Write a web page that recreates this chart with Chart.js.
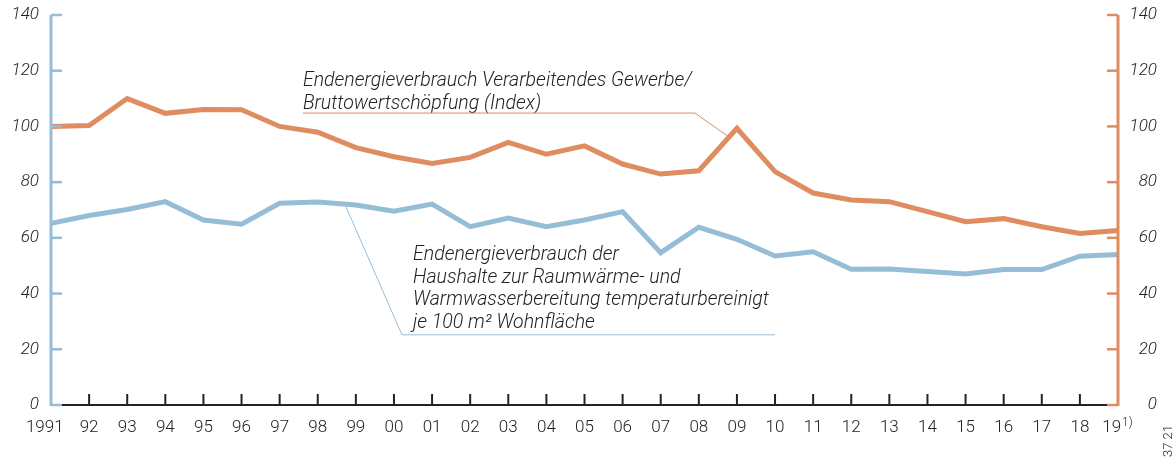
<!DOCTYPE html>
<html>
<head>
<meta charset="utf-8">
<script src="https://cdn.jsdelivr.net/npm/chart.js@4.4.1/dist/chart.umd.min.js"></script>
<style>
	html, body { margin: 0; padding: 0; background: #fff; }
	#wrap { width: 1174px; height: 459px; }
</style>
</head>
<body>
<div id="wrap"><canvas id="energyChart" width="1174" height="459"></canvas></div>
<script>
const years = ["1991", "92", "93", "94", "95", "96", "97", "98", "99", "00",
	"01", "02", "03", "04", "05", "06", "07", "08", "09", "10",
	"11", "12", "13", "14", "15", "16", "17", "18", "19"];

// Endenergieverbrauch Verarbeitendes Gewerbe / Bruttowertschoepfung (Index)
const gewerbe = [100, 100.3, 110, 104.7, 106.1, 106, 100, 97.9, 92.4, 89.1,
	86.7, 88.9, 94.3, 90, 93, 86.5, 82.9, 84.1, 99.3, 83.8,
	76.1, 73.6, 73, 69.4, 65.8, 66.9, 64, 61.6, 62.6];

// Endenergieverbrauch der Haushalte je 100 m2 Wohnflaeche
const haushalte = [65.2, 68, 70.2, 73, 66.4, 64.9, 72.4, 72.9, 71.8, 69.6,
	72.1, 64, 67.1, 64, 66.4, 69.4, 54.7, 63.8, 59.5, 53.5,
	55, 48.7, 48.8, 47.9, 47, 48.6, 48.6, 53.4, 54];

const yTicks = [0, 20, 40, 60, 80, 100, 120, 140];

const orange = "rgb(222, 140, 96)";
const blue = "rgb(150, 189, 215)";
const ink = "#222";
const fontFamily = "Roboto, 'Liberation Sans', sans-serif";

const energyCanvas = document.getElementById("energyChart");

//////////////////////////////// axes, ticks and notes

const decorPlugin = {
	id: "decor",
	afterDraw(chart) {
		const ctx = chart.ctx;
		const x = chart.scales.x;
		const yl = chart.scales.yLeft;
		const yr = chart.scales.yRight;
		const left = x.getPixelForValue(0);
		const right = x.getPixelForValue(years.length - 1);
		const bottom = yl.getPixelForValue(0);
		const top = yl.getPixelForValue(140);

		ctx.save();
		// x axis line
		ctx.strokeStyle = ink;
		ctx.lineWidth = 2;
		ctx.beginPath();
		ctx.moveTo(left, bottom);
		ctx.lineTo(right, bottom);
		ctx.stroke();
		for (let i = 1; i < years.length - 1; i++) {
			const px = x.getPixelForValue(i);
			ctx.beginPath();
			ctx.moveTo(px, bottom);
			ctx.lineTo(px, bottom - 11);
			ctx.stroke();
		}

		// left axis (blue)
		ctx.strokeStyle = blue;
		ctx.lineWidth = 3;
		ctx.beginPath();
		ctx.moveTo(left, top);
		ctx.lineTo(left, bottom + 1);
		ctx.stroke();
		ctx.lineWidth = 2.5;
		yTicks.forEach((v) => {
			const py = yl.getPixelForValue(v);
			ctx.beginPath();
			ctx.moveTo(left, py);
			ctx.lineTo(left + 11, py);
			ctx.stroke();
		});

		// right axis (orange)
		ctx.strokeStyle = orange;
		ctx.lineWidth = 3;
		ctx.beginPath();
		ctx.moveTo(right, top);
		ctx.lineTo(right, bottom + 1);
		ctx.stroke();
		ctx.lineWidth = 2.5;
		yTicks.forEach((v) => {
			const py = yr.getPixelForValue(v);
			ctx.beginPath();
			ctx.moveTo(right, py);
			ctx.lineTo(right - 11, py);
			ctx.stroke();
		});

		// footnote mark on last year
		ctx.fillStyle = ink;
		ctx.font = "300 12px " + fontFamily;
		ctx.textAlign = "left";
		ctx.textBaseline = "alphabetic";
		ctx.fillText("1)", right + 4, bottom + 21);

		// note: Gewerbe
		ctx.font = "italic 300 19.5px " + fontFamily;
		ctx.fillStyle = ink;
		const gx = x.getPixelForValue(6.61);
		ctx.fillText("Endenergieverbrauch Verarbeitendes Gewerbe/", gx, yl.getPixelForValue(114.6));
		ctx.fillText("Bruttowertschöpfung (Index)", gx, yl.getPixelForValue(106.3));
		ctx.strokeStyle = orange;
		ctx.lineWidth = 1;
		ctx.beginPath();
		ctx.moveTo(gx, yl.getPixelForValue(104.8));
		ctx.lineTo(x.getPixelForValue(16.9), yl.getPixelForValue(104.8));
		ctx.lineTo(x.getPixelForValue(17.74), yl.getPixelForValue(96.7));
		ctx.stroke();

		// note: Haushalte
		const hx = x.getPixelForValue(9.5);
		const hLines = [
			"Endenergieverbrauch der",
			"Haushalte zur Raumwärme- und",
			"Warmwasserbereitung temperaturbereinigt",
			"je 100 m² Wohnfläche",
		];
		hLines.forEach((t, i) => {
			ctx.fillText(t, hx, yl.getPixelForValue(51.9) + i * 22.4);
		});
		ctx.strokeStyle = blue;
		ctx.beginPath();
		ctx.moveTo(x.getPixelForValue(7.74), yl.getPixelForValue(71.2));
		ctx.lineTo(x.getPixelForValue(9.21), yl.getPixelForValue(25.2));
		ctx.lineTo(x.getPixelForValue(19.0), yl.getPixelForValue(25.2));
		ctx.stroke();

		// print code
		ctx.font = "300 13px " + fontFamily;
		ctx.fillStyle = ink;
		ctx.translate(1172, 457);
		ctx.rotate(-Math.PI / 2);
		ctx.textAlign = "left";
		ctx.fillText("37 21", 0, 0);
		ctx.restore();
	},
};

const tickFont = { family: fontFamily, size: 17, weight: "300" };
const yTickFont = { family: fontFamily, size: 17, weight: "300", style: "italic" };

// y scales: fixed width, no extra top/bottom room for the labels
function fitY(width) {
	return function (scale) {
		scale.width = width;
		scale.paddingTop = 0;
		scale.paddingBottom = 0;
	};
}

const energyOptions = {
	responsive: false,
	animation: { duration: 0 },
	layout: {
		autoPadding: false,
		padding: { top: 15, bottom: 0, left: 0, right: 17 },
	},
	plugins: {
		legend: { display: false },
		tooltip: { enabled: false },
	},
	scales: {
		x: {
			type: "category",
			offset: false,
			grid: { display: false, drawTicks: false },
			border: { display: false },
			ticks: {
				color: ink,
				font: tickFont,
				padding: 13,
				autoSkip: false,
				maxRotation: 0,
				callback(value, index) {
					const label = this.getLabelForValue(value);
					// first and last labels sit a little left of their tick
					if (index === 0 || index === years.length - 1) return label + "   ";
					return label;
				},
			},
			afterFit(scale) {
				scale.height = 54;
				scale.paddingLeft = 0;
				scale.paddingRight = 0;
			},
		},
		yLeft: {
			position: "left",
			min: 0,
			max: 140,
			grid: { display: false, drawTicks: false },
			border: { display: false },
			ticks: {
				stepSize: 20,
				color: ink,
				padding: 12,
				font: yTickFont,
			},
			afterFit: fitY(51),
		},
		yRight: {
			position: "right",
			min: 0,
			max: 140,
			grid: { display: false, drawTicks: false },
			border: { display: false },
			ticks: {
				stepSize: 20,
				color: ink,
				padding: 12,
				crossAlign: "far",
				font: yTickFont,
			},
			afterFit: fitY(39),
		},
	},
	elements: {
		line: { tension: 0 },
		point: { radius: 0 },
	},
};

const energyData = {
	labels: years,
	datasets: [
		{
			data: gewerbe,
			yAxisID: "yRight",
			borderColor: orange,
			borderWidth: 5,
			borderJoinStyle: "miter",
			fill: false,
		},
		{
			data: haushalte,
			yAxisID: "yLeft",
			borderColor: blue,
			borderWidth: 5,
			borderJoinStyle: "miter",
			fill: false,
		},
	],
};

new Chart(energyCanvas, {
	type: "line",
	data: energyData,
	options: energyOptions,
	plugins: [decorPlugin],
});
</script>
</body>
</html>
